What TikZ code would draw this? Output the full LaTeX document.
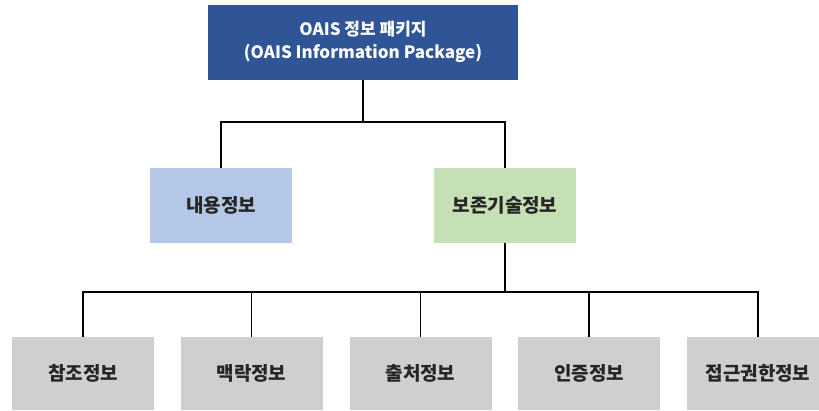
\documentclass[tikz,border=0pt]{standalone}
\usepackage{fontspec}
\setmainfont{Noto Sans CJK KR}
\definecolor{pkgblue}{HTML}{2F5597}
\definecolor{contentblue}{HTML}{B4C7E7}
\definecolor{presgreen}{HTML}{C5E0B4}
\definecolor{subgray}{HTML}{D0CECE}
\begin{document}
\begin{tikzpicture}[x=1pt, y=-1pt, align=center, font=\bfseries,
  box/.style={inner sep=0pt, minimum width=142pt, minimum height=75pt, text=black!85,
    font=\fontsize{19}{23}\selectfont\bfseries},
  subbox/.style={box, fill=subgray, minimum height=73pt},
  link/.style={line width=1.6pt, black}]

\useasboundingbox (0, 0) rectangle (819, 410);

% Package
\node[inner sep=0pt, fill=pkgblue, text=white, minimum width=310pt, minimum height=75pt,
  font=\fontsize{17}{23}\selectfont\bfseries] (pkg) at (363, 42)
  {OAIS 정보 패키지\\(OAIS Information Package)};

% Content and preservation
\node[box, fill=contentblue] (content) at (221, 205.5) {내용정보};
\node[box, fill=presgreen] (pres) at (505, 205.5) {보존기술정보};

% Preservation parts
\node[subbox] (ref) at (83, 373.5) {참조정보};
\node[subbox] (ctx) at (251.5, 373.5) {맥락정보};
\node[subbox] (prov) at (420.5, 373.5) {출처정보};
\node[subbox] (fix) at (589, 373.5) {인증정보};
\node[subbox] (acc) at (758, 373.5) {접근권한정보};

% Lines
\draw[link] (pkg.south) -- ++(0, 42) coordinate (top bus);
\draw[link] (top bus) -| (content.north);
\draw[link] (top bus) -| (pres.north);
\draw[link] (pres.south) -- ++(0, 49) coordinate (sub bus);
\foreach \n in {ref, ctx, prov, fix, acc}
  \draw[link] (sub bus) -| (\n.north);

\end{tikzpicture}
\end{document}
